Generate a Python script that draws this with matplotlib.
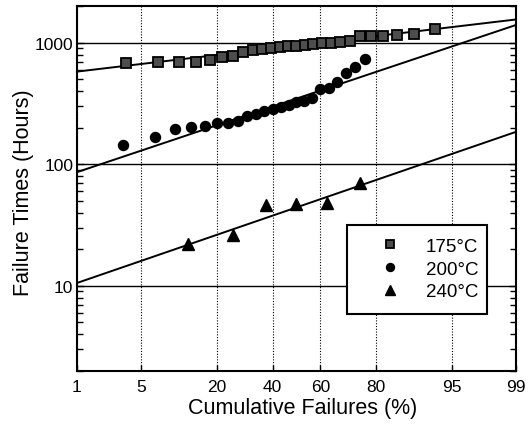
import numpy as np
import matplotlib
matplotlib.use('Agg')
import matplotlib.pyplot as plt
from matplotlib import font_manager
from matplotlib.ticker import FixedLocator, LogLocator, NullFormatter
from statistics import NormalDist

# cumulative failures (%) and failure times (hours)
pct_175 = [3.6, 7.1, 10.7, 14.3, 17.9, 21.4, 25.0, 28.6, 32.1, 35.7, 39.3, 42.9, 46.4,
           50.0, 53.6, 57.1, 60.7, 64.3, 67.9, 71.4, 75.0, 78.6, 82.1, 85.7, 89.3, 92.9]
hrs_175 = [684, 692, 696, 696, 720, 762, 785, 847, 875, 890, 905, 920, 935,
           950, 960, 975, 990, 1000, 1020, 1040, 1136, 1136, 1149, 1164, 1180, 1305]

pct_200 = [3.3, 6.7, 10.0, 13.3, 16.7, 20.0, 23.3, 26.7, 30.0, 33.3, 36.7, 40.0,
           43.3, 46.7, 50.0, 53.3, 56.7, 60.0, 63.3, 66.7, 70.0, 73.3, 76.7]
hrs_200 = [144, 169, 197, 202, 207, 217, 221, 228, 252, 261, 275, 285,
           297, 310, 324, 335, 350, 420, 423, 473, 568, 630, 738]

pct_240 = [12.5, 25.0, 37.5, 50.0, 62.5, 75.0]
hrs_240 = [22, 26, 46, 47, 48, 70]

# lognormal fit lines: median life (h) and slope (decades per probit unit)
fit_median = [951, 348, 44.2]
fit_sigma = [0.0924, 0.2608, 0.2678]
labels = ['175°C', '200°C', '240°C']
x_ticks = [1, 5, 20, 40, 60, 80, 95, 99]

have = {f.name for f in font_manager.fontManager.ttflist}
narrow = 'Liberation Sans Narrow' if 'Liberation Sans Narrow' in have else None
fam = [narrow, 'Liberation Sans'] if narrow else ['Liberation Sans', 'DejaVu Sans']
plt.rcParams['font.family'] = ['Liberation Sans', 'DejaVu Sans']

nd = NormalDist()
_ppf = np.vectorize(lambda v: nd.inv_cdf(v), otypes=[float])
_cdf = np.vectorize(lambda v: nd.cdf(v), otypes=[float])


def fwd(p):
    p = np.clip(np.asarray(p, float) / 100.0, 1e-9, 1 - 1e-9)
    return _ppf(p)


def inv(z):
    return _cdf(np.asarray(z, float)) * 100.0


fig = plt.figure(figsize=(5.31, 4.31), dpi=100)
ax = fig.add_axes([0.1444, 0.1376, 0.8279, 0.8454])
ax.set_xscale('function', functions=(fwd, inv))
ax.set_yscale('log')

# fitted lines
pp = np.linspace(1, 99, 300)
for med, sig in zip(fit_median, fit_sigma):
    ax.plot(pp, 10 ** (np.log10(med) + sig * fwd(pp)), color='k', lw=1.4, zorder=3)

ax.plot(pct_175, hrs_175, ls='none', marker='s', ms=6.5, mfc='0.3', mec='k', mew=1.3,
        label=labels[0], zorder=4)
ax.plot(pct_200, hrs_200, ls='none', marker='o', ms=7.2, mfc='k', mec='k',
        label=labels[1], zorder=4)
ax.plot(pct_240, hrs_240, ls='none', marker='^', ms=8.5, mfc='k', mec='k',
        label=labels[2], zorder=4)

ax.set_xlim(1, 99)
ax.set_ylim(2, 2000)

ax.xaxis.set_major_locator(FixedLocator(x_ticks))
ax.set_xticklabels([str(t) for t in x_ticks])
ax.xaxis.set_minor_locator(FixedLocator([]))
ax.yaxis.set_major_locator(FixedLocator([10, 100, 1000]))
ax.set_yticklabels(['10', '100', '1000'])
ax.yaxis.set_minor_locator(LogLocator(base=10, subs=range(2, 10)))
ax.yaxis.set_minor_formatter(NullFormatter())

ax.xaxis.grid(True, which='major', color='k', lw=0.8, linestyle=(0, (1, 1.5)))
ax.yaxis.grid(True, which='major', color='k', lw=1.0)

ax.tick_params(axis='x', which='major', direction='in', length=4, width=1,
               top=False, pad=6)
ax.tick_params(axis='y', which='both', direction='in', left=True, right=True,
               width=1, pad=2.5)
ax.tick_params(axis='y', which='major', length=5)
ax.tick_params(axis='y', which='minor', length=4.5)
for lab in ax.get_xticklabels() + ax.get_yticklabels():
    lab.set_family(fam)
    lab.set_fontsize(14 if narrow else 12.5)
for s in ax.spines.values():
    s.set_linewidth(1.5)

lbl_size = 18.5 if narrow else 15.5
ax.set_xlabel('Cumulative Failures (%)', family=fam, fontsize=lbl_size)
ax.set_ylabel('Failure Times (Hours)', family=fam, fontsize=lbl_size)
ax.xaxis.set_label_coords(0.514, -0.072)
ax.yaxis.set_label_coords(-0.098, 0.49)

leg_size = 15 if narrow else 13.5
leg = ax.legend(loc='upper left', bbox_to_anchor=(0.6156, 0.1054, 0.3184, 0.2953),
                mode='expand', borderaxespad=0, fancybox=False, framealpha=1,
                edgecolor='k', borderpad=0.7, handlelength=3.2, handletextpad=0.3,
                labelspacing=0.3, markerscale=0.8,
                prop={'family': fam, 'size': leg_size})
leg.get_frame().set_linewidth(1.5)

fig.savefig('out.png', dpi=100)
